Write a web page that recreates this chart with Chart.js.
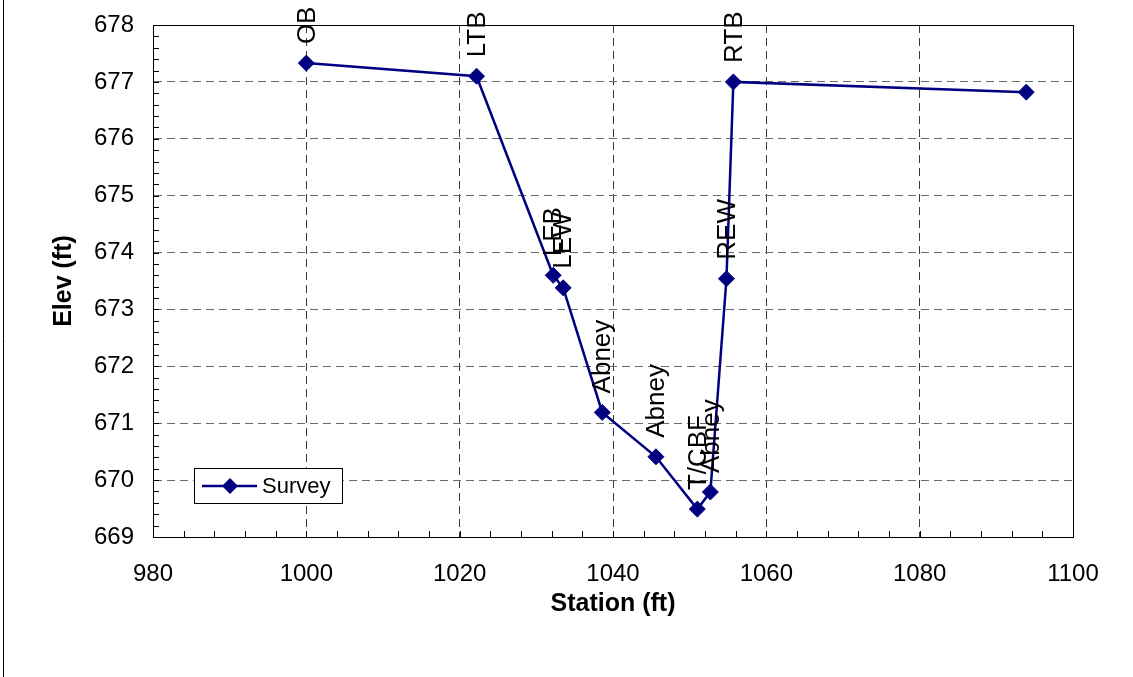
<!DOCTYPE html>
<html>
<head>
<meta charset="utf-8">
<script src="https://cdn.jsdelivr.net/npm/chart.js@4"></script>
<style>
  html, body { margin: 0; padding: 0; background: #fff; }
  #wrap { width: 1133px; height: 677px; position: relative; }
</style>
</head>
<body>
<div id="wrap"><canvas id="grafico" width="1133" height="677"></canvas></div>
<script>
const ESTACAO = [1000, 1022.2, 1032.2, 1033.5, 1038.6, 1045.6, 1051.0, 1052.7, 1054.8, 1055.7, 1093.9];
const ELEVACAO = [677.33, 677.10, 673.60, 673.38, 671.19, 670.41, 669.49, 669.79, 673.54, 677.00, 676.82];
const ROTULOS = ['OB', 'LTB', 'LEB', 'LEW', 'Abney', 'Abney', 'T/CBF', 'Abney', 'REW', 'RTB', ''];
const X_MIN = 980, X_MAX = 1100, X_PASSO = 20;
const Y_MIN = 669, Y_MAX = 678, Y_PASSO = 1;

const AZUL = '#000080';
const FONTE = '"Liberation Sans", Arial, sans-serif';

// rótulos verticais acima de cada ponto
const rotulosPlugin = {
  id: 'rotulos',
  afterDatasetsDraw(chart) {
    const ctx = chart.ctx;
    const meta = chart.getDatasetMeta(0);
    ctx.save();
    ctx.font = '26px ' + FONTE;
    ctx.fillStyle = '#000';
    ctx.textAlign = 'left';
    ctx.textBaseline = 'middle';
    meta.data.forEach((pt, i) => {
      if (!ROTULOS[i]) return;
      ctx.save();
      ctx.translate(pt.x + 1, pt.y - 19);
      ctx.rotate(-Math.PI / 2);
      ctx.fillText(ROTULOS[i], 0, 0);
      ctx.restore();
    });
    ctx.restore();
  }
};

// moldura, marcas menores, legenda
const molduraPlugin = {
  id: 'moldura',
  afterDraw(chart) {
    const ctx = chart.ctx;
    const a = chart.chartArea;
    const sx = chart.scales.x, sy = chart.scales.y;
    ctx.save();
    ctx.strokeStyle = '#000';
    ctx.lineWidth = 1;
    ctx.strokeRect(Math.round(a.left) + 0.5, Math.round(a.top) + 0.5, Math.round(a.right - a.left), Math.round(a.bottom - a.top));

    ctx.beginPath();
    for (let v = X_MIN; v <= X_MAX; v += 4) {
      const px = Math.round(sx.getPixelForValue(v)) + 0.5;
      ctx.moveTo(px, a.bottom);
      ctx.lineTo(px, a.bottom - 6);
    }
    for (let k = 0; k <= (Y_MAX - Y_MIN) * 5; k++) {
      const py = Math.round(sy.getPixelForValue(Y_MIN + k * 0.2)) + 0.5;
      ctx.moveTo(a.left, py);
      ctx.lineTo(a.left + 6, py);
    }
    ctx.stroke();

    // borda externa à esquerda
    ctx.beginPath();
    ctx.moveTo(3.5, 0);
    ctx.lineTo(3.5, chart.height);
    ctx.stroke();

    // legenda
    const lx = a.left + 41, ly = a.bottom - 69;
    ctx.fillStyle = '#fff';
    ctx.fillRect(lx, ly, 148, 35);
    ctx.strokeRect(lx + 0.5, ly + 0.5, 148, 35);
    const my = ly + 18;
    ctx.strokeStyle = AZUL;
    ctx.lineWidth = 2.5;
    ctx.beginPath();
    ctx.moveTo(lx + 8, my);
    ctx.lineTo(lx + 63, my);
    ctx.stroke();
    ctx.fillStyle = AZUL;
    ctx.beginPath();
    ctx.moveTo(lx + 36 - 8, my);
    ctx.lineTo(lx + 36, my - 8);
    ctx.lineTo(lx + 36 + 8, my);
    ctx.lineTo(lx + 36, my + 8);
    ctx.closePath();
    ctx.fill();
    ctx.fillStyle = '#000';
    ctx.font = '22px ' + FONTE;
    ctx.textAlign = 'left';
    ctx.textBaseline = 'middle';
    ctx.fillText('Survey', lx + 68, my + 1);
    ctx.restore();
  }
};

const pontos = ESTACAO.map((x, i) => ({ x, y: ELEVACAO[i] }));

new Chart(document.getElementById('grafico'), {
  type: 'scatter',
  data: {
    datasets: [{
      label: 'Survey',
      data: pontos,
      showLine: true,
      borderColor: AZUL,
      borderWidth: 2.5,
      backgroundColor: AZUL,
      pointStyle: 'rectRot',
      pointRadius: 8,
      pointBorderWidth: 1,
      pointBorderColor: AZUL,
      pointBackgroundColor: AZUL,
      tension: 0
    }]
  },
  options: {
    responsive: false,
    animation: false,
    layout: { padding: { top: 25, right: 60, left: 0, bottom: 0 } },
    plugins: { legend: { display: false }, tooltip: { enabled: false } },
    scales: {
      x: {
        type: 'linear',
        min: X_MIN, max: X_MAX,
        afterFit: s => { s.height = 140; s.paddingLeft = 0; s.paddingRight = 0; },
        ticks: { stepSize: X_PASSO, color: '#000', padding: 23, font: { family: FONTE, size: 24 }, callback: v => String(v) },
        grid: {
          drawTicks: false,
          color: c => (c.tick.value === X_MIN || c.tick.value === X_MAX) ? 'rgba(0,0,0,0)' : '#3a3a3a',
          lineWidth: 1
        },
        border: { display: true, color: '#000', dash: [8, 5] },
        title: { display: true, text: 'Station (ft)', color: '#000', padding: { bottom: 58 }, font: { family: FONTE, size: 25, weight: 'bold' } }
      },
      y: {
        type: 'linear',
        min: Y_MIN, max: Y_MAX,
        afterFit: s => { s.width = 153; s.paddingTop = 0; s.paddingBottom = 0; },
        ticks: { stepSize: Y_PASSO, color: '#000', padding: 19, font: { family: FONTE, size: 24 }, callback: v => String(v) },
        grid: {
          drawTicks: false,
          color: c => (c.tick.value === Y_MIN || c.tick.value === Y_MAX) ? 'rgba(0,0,0,0)' : '#6a6a6a',
          lineWidth: 1
        },
        border: { display: true, color: '#000', dash: [8, 5] },
        title: { display: true, text: 'Elev (ft)', color: '#000', padding: { top: 49 }, font: { family: FONTE, size: 25, weight: 'bold' } }
      }
    }
  },
  plugins: [rotulosPlugin, molduraPlugin]
});
</script>
</body>
</html>
